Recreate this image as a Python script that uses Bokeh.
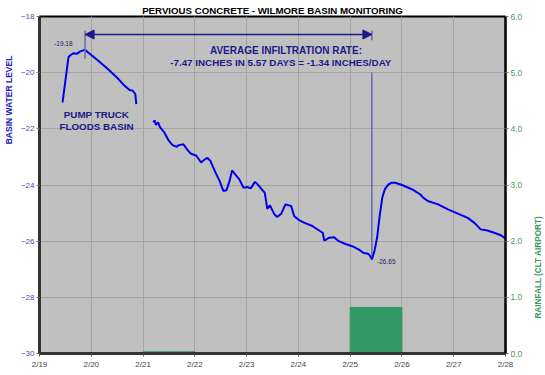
import math
from bokeh.plotting import figure
from bokeh.layouts import row
from bokeh.models import (Range1d, LinearAxis, FixedTicker, Label, Arrow, NormalHead,
                          PrintfTickFormatter)
from bokeh.embed import file_html
from bokeh.resources import INLINE

FONT = "Liberation Sans"
NB = "\u00a0"

# ---------------- data ----------------
day_ticks = [19, 20, 21, 22, 23, 24, 25, 26, 27, 28]
day_labels = ["2/19", "2/20", "2/21", "2/22", "2/23", "2/24", "2/25", "2/26", "2/27", "2/28"]
level_ticks = [-30, -28, -26, -24, -22, -20, -18]
rain_ticks = [0, 1, 2, 3, 4, 5, 6]

# water level, first fill (before pump truck refill)
seg1_day = [19.445, 19.56, 19.59, 19.655, 19.72, 19.78, 19.88, 19.94, 20.13, 20.32,
            20.52, 20.64, 20.74, 20.80, 20.85, 20.87]
seg1_level = [-21.06, -19.45, -19.39, -19.31, -19.33, -19.25, -19.18, -19.28, -19.57, -19.87,
              -20.22, -20.46, -20.62, -20.64, -20.76, -21.12]

# water level, after the refill
seg2_day = [21.20, 21.22, 21.25, 21.29, 21.33, 21.41, 21.50, 21.57, 21.65, 21.69, 21.78,
            21.85, 21.92, 22.03, 22.12, 22.17, 22.24, 22.30, 22.40, 22.48, 22.55, 22.61,
            22.67, 22.72, 22.78, 22.86, 22.94, 23.01, 23.08, 23.16, 23.20, 23.29, 23.35,
            23.40, 23.45, 23.51, 23.54, 23.59, 23.67, 23.75, 23.86, 23.92, 24.02, 24.12,
            24.27, 24.40, 24.47, 24.50, 24.59, 24.69, 24.78, 24.91, 25.04, 25.17, 25.26,
            25.35, 25.39, 25.42, 25.47, 25.52, 25.57, 25.62, 25.67, 25.74, 25.80, 25.87,
            26.00, 26.19, 26.35, 26.41, 26.50, 26.70, 26.89, 27.08, 27.27, 27.40, 27.52,
            27.65, 27.78, 27.91, 28.00]
seg2_level = [-21.77, -21.70, -21.86, -21.77, -21.95, -22.13, -22.43, -22.58, -22.64, -22.58,
              -22.55, -22.73, -22.88, -22.96, -23.20, -23.12, -23.03, -23.14, -23.56, -23.86,
              -24.21, -24.19, -23.86, -23.48, -23.62, -23.80, -24.10, -24.07, -24.12, -23.89,
              -23.95, -24.15, -24.27, -24.85, -24.72, -24.95, -25.05, -25.14, -25.02, -24.69,
              -24.75, -25.11, -25.26, -25.35, -25.46, -25.62, -25.70, -25.98, -25.88, -25.86,
              -26.00, -26.10, -26.18, -26.30, -26.42, -26.45, -26.54, -26.65, -26.34, -25.88,
              -25.10, -24.45, -24.15, -23.98, -23.92, -23.92, -24.00, -24.15, -24.33, -24.45,
              -24.57, -24.69, -24.87, -25.02, -25.17, -25.35, -25.58, -25.62, -25.70, -25.79,
              -25.90]

# daily rainfall (inches)
rain_day = [21, 25, 26]
rain_in = [0.03, 0.82, 0.01]

# annotation values
peak_day, peak_level = 19.88, -19.18
low_day, low_level = 25.42, -26.65
arrow_level = -18.64

# ---------------- main figure ----------------
p = figure(width=532, height=375, output_backend="svg", toolbar_location=None,
           x_range=Range1d(19, 28), y_range=Range1d(-30, -18),
           min_border_left=34, min_border_right=27, min_border_top=16, min_border_bottom=22)
p.extra_y_ranges = {"rain": Range1d(0, 6)}
p.background_fill_color = "#c0c0c0"
p.border_fill_color = "white"
p.outline_line_color = "black"
p.outline_line_width = 2

# title
p.title.text = "PERVIOUS CONCRETE - WILMORE BASIN MONITORING"
p.title.align = "center"
p.title.offset = 3
p.title.standoff = 2
p.title.text_font = FONT
p.title.text_font_size = "9.7px"
p.title.text_font_style = "bold"
p.title.text_color = "black"

# grid
p.xgrid.ticker = FixedTicker(ticks=day_ticks)
p.ygrid.ticker = FixedTicker(ticks=level_ticks)
p.xgrid.grid_line_color = "#a4a4a4"
p.ygrid.grid_line_color = "#a4a4a4"

# bottom axis
xa = p.xaxis[0]
xa.ticker = FixedTicker(ticks=day_ticks)
xa.major_label_overrides = {d: l for d, l in zip(day_ticks, day_labels)}
xa.axis_line_color = "#333333"
xa.axis_line_width = 3
xa.major_tick_in = 0
xa.major_tick_out = 3
xa.major_tick_line_color = "#555555"
xa.minor_tick_line_color = None
xa.major_label_text_font = FONT
xa.major_label_text_font_size = "8px"
xa.major_label_text_color = "#444444"
xa.major_label_standoff = 3

# left axis
ya = p.yaxis[0]
ya.ticker = FixedTicker(ticks=level_ticks)
ya.axis_line_color = "#333333"
ya.axis_line_width = 3
ya.major_tick_in = 0
ya.major_tick_out = 3
ya.major_tick_line_color = "#777777"
ya.minor_tick_line_color = None
ya.major_label_text_font = FONT
ya.major_label_text_font_size = "8px"
ya.major_label_text_color = "#4a4aa8"
ya.major_label_standoff = 2
ya.axis_label = NB * 72 + "BASIN WATER LEVEL"
ya.axis_label_text_font = FONT
ya.axis_label_text_font_size = "8.5px"
ya.axis_label_text_font_style = "bold"
ya.axis_label_text_color = "#2020c0"
ya.axis_label_standoff = 4

# right axis (rain)
ra = LinearAxis(y_range_name="rain", ticker=FixedTicker(ticks=rain_ticks),
                formatter=PrintfTickFormatter(format="%.1f"))
ra.axis_line_color = "black"
ra.axis_line_width = 2
ra.major_tick_in = 0
ra.major_tick_out = 3
ra.major_tick_line_color = "#777777"
ra.minor_tick_line_color = None
ra.major_label_text_font = FONT
ra.major_label_text_font_size = "8.5px"
ra.major_label_text_color = "#4a9a5a"
ra.major_label_standoff = 2
p.add_layout(ra, "right")

# rain bars
p.quad(left=rain_day, right=[d + 1 for d in rain_day], bottom=0, top=rain_in,
       y_range_name="rain", fill_color="#339966", line_color="#339966", line_width=1)

# water level
p.line(seg1_day, seg1_level, line_color="#0000ee", line_width=2)
p.line(seg2_day, seg2_level, line_color="#0000ee", line_width=2)

# markers / arrow
p.segment(x0=[peak_day], y0=[-18.5], x1=[peak_day], y1=[-19.5],
          line_color="#6a6aa8", line_width=1.5)
p.segment(x0=[low_day, low_day], y0=[-18.5, -20.0], x1=[low_day, low_day], y1=[-18.85, low_level],
          line_color="#3a3aaa", line_width=1)
p.add_layout(Arrow(start=NormalHead(size=9, fill_color="#1a1a88", line_color="#1a1a88"),
                   end=NormalHead(size=9, fill_color="#1a1a88", line_color="#1a1a88"),
                   x_start=peak_day, y_start=arrow_level, x_end=low_day, y_end=arrow_level,
                   line_color="#1a1a88", line_width=1.5))


def lab(fig, text, x, y, size, color="#1a1a88", bold=True, align="center", angle=0.0):
    fig.add_layout(Label(text=text, x=x, y=y, text_font=FONT, text_font_size=size,
                         text_font_style="bold" if bold else "normal", text_color=color,
                         text_align=align, text_baseline="middle", angle=angle))


lab(p, "-19.18", 19.46, -18.96, "6.5px", color="#222266", bold=False)
lab(p, "-26.65", 25.52, -26.71, "6.5px", color="#222266", bold=False, align="left")
lab(p, "AVERAGE INFILTRATION RATE:", 23.76, -19.21, "10px")
lab(p, "-7.47 INCHES IN 5.57 DAYS = -1.34 INCHES/DAY", 23.66, -19.65, "9.8px")
lab(p, "PUMP TRUCK", 20.10, -21.48, "9.8px")
lab(p, "FLOODS BASIN", 20.10, -21.93, "9.8px")

# ---------------- strip holding the right-hand axis title ----------------
side = figure(width=13, height=375, output_backend="svg", toolbar_location=None,
              x_range=Range1d(0, 13), y_range=Range1d(0, 375),
              min_border_left=0, min_border_right=0, min_border_top=0, min_border_bottom=0)
side.axis.visible = False
side.grid.visible = False
side.outline_line_color = None
side.background_fill_color = "white"
side.border_fill_color = "white"
lab(side, "RAINFALL (CLT AIRPORT)", 5.5, 96, "8.2px", color="#3a9a60", angle=math.pi / 2)

open("out.html", "w").write(file_html(row(p, side), INLINE))
